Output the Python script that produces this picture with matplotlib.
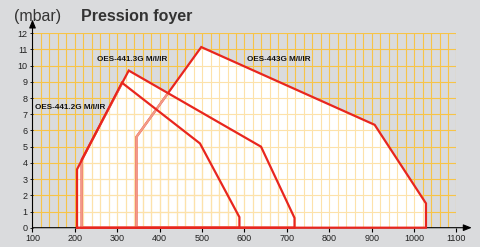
import matplotlib
matplotlib.use("Agg")
import matplotlib.pyplot as plt
from matplotlib.patches import Polygon
import numpy as np

# burner working fields (power kW vs combustion chamber pressure mbar)
x_443 = [345, 345, 498, 907, 1028, 1028]
y_443 = [0, 5.6, 11.15, 6.35, 1.5, 0]
x_4413 = [216, 216, 327, 639, 718, 718]
y_4413 = [0, 4.2, 9.7, 5.0, 0.6, 0]
x_4412 = [205, 205, 311, 495, 588, 588]
y_4412 = [0, 3.6, 8.95, 5.2, 0.65, 0]

labels = ["OES-443G M/I/IR", "OES-441.3G M/I/IR", "OES-441.2G M/I/IR"]
label_x = [607, 252, 106]
label_y = [10.4, 10.4, 7.45]

x_ticks = list(range(100, 1101, 100))
y_ticks = list(range(0, 13))

GRAY = "#dadbdd"
GRID = "#f7c448"
GRID_PALE = "#fde2aa"
RED = "#e8261e"
SALMON = "#f29a86"

plt.rcParams["font.family"] = ["Liberation Sans", "DejaVu Sans"]

fig = plt.figure(figsize=(4.81, 2.47), dpi=100, facecolor=GRAY)
ax = fig.add_axes([32.5 / 481, 19.3 / 247, 424 / 481, 194.4 / 247])
ax.set_facecolor(GRAY)
ax.set_xlim(100, 1100)
ax.set_ylim(0, 12)

gx = np.arange(100, 1101, 20)
gy = np.arange(0, 13, 1)

# saturated grid on the gray
ax.vlines(gx, 0, 12, colors=GRID, lw=0.8, zorder=1)
ax.hlines(gy, 100, 1100, colors=GRID, lw=0.8, zorder=1)

xs = [x_443, x_4413, x_4412]
ys = [y_443, y_4413, y_4412]
patches = []
for x, y in zip(xs, ys):
    p = Polygon(np.column_stack([x, y]), closed=True, facecolor="white",
                edgecolor="none", zorder=2)
    ax.add_patch(p)
    patches.append(p)

# pale grid inside the white fields
for p in patches:
    v = ax.vlines(gx, 0, 12, colors=GRID_PALE, lw=0.8, zorder=3)
    h = ax.hlines(gy, 100, 1100, colors=GRID_PALE, lw=0.8, zorder=3)
    v.set_clip_path(p)
    h.set_clip_path(p)


def outline(x, y, color, z, clip=None):
    line, = ax.plot(x + [x[0]], y + [y[0]], color=color, lw=1.6, zorder=z,
                    solid_joinstyle="miter", clip_on=False)
    if clip is not None:
        line.set_clip_path(clip)
        line.set_clip_on(True)
    return line


outline(x_443, y_443, RED, 4)
outline(x_443, y_443, SALMON, 5, clip=patches[1])
outline(x_4413, y_4413, RED, 6)
outline(x_4413, y_4413, SALMON, 7, clip=patches[2])
outline(x_4412, y_4412, RED, 8)

for t, lx, ly in zip(labels, label_x, label_y):
    ax.text(lx, ly, t, fontsize=5.9, fontweight="bold", color="#111111",
            va="center", ha="left", zorder=9)

# axes with arrows
for s in ax.spines.values():
    s.set_visible(False)
ax.annotate("", xy=(1136, 0), xytext=(100, 0), xycoords="data",
            annotation_clip=False,
            arrowprops=dict(arrowstyle="-|>,head_length=0.5,head_width=0.2",
                            color="black", lw=0.8, shrinkA=0, shrinkB=0),
            zorder=3.5)
ax.annotate("", xy=(100, 12.85), xytext=(100, 0), xycoords="data",
            annotation_clip=False,
            arrowprops=dict(arrowstyle="-|>,head_length=0.5,head_width=0.2",
                            color="black", lw=0.8, shrinkA=0, shrinkB=0),
            zorder=10)

ax.set_xticks(x_ticks)
ax.set_yticks(y_ticks)
ax.tick_params(axis="x", direction="out", length=3, width=0.8, pad=1.5,
               labelsize=6.5, colors="black", labelcolor="#222222")
ax.tick_params(axis="y", direction="out", length=2, width=0.6, pad=1.5,
               labelsize=6.5, colors="black", labelcolor="#222222")

fig.text(14 / 481, 0.916, "(mbar)", fontsize=11.5, color="#333333",
         va="baseline", ha="left")
fig.text(81 / 481, 0.916, "Pression foyer", fontsize=11.5, fontweight="bold",
         color="#333333", va="baseline", ha="left")

fig.savefig("out.png", dpi=100, facecolor=GRAY)
